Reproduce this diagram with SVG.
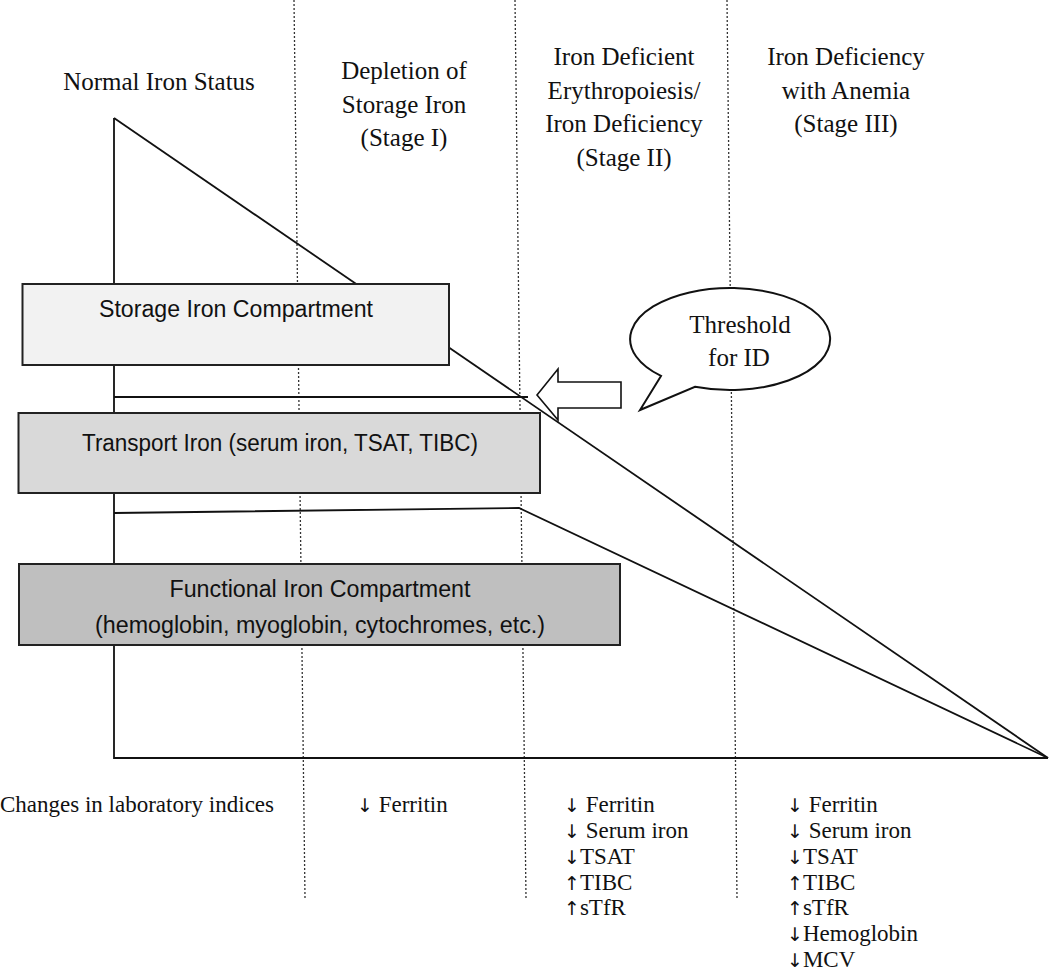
<svg xmlns="http://www.w3.org/2000/svg" width="1050" height="974" viewBox="0 0 1050 974">
<style>
.dot{stroke:#333;stroke-width:1.3;stroke-dasharray:2 2;fill:none}
.ln{stroke:#111;stroke-width:1.8;fill:none}
.box{stroke:#222;stroke-width:2}
.ser{font-family:"Liberation Serif","Times New Roman","DejaVu Serif",serif;fill:#111}
.hd{font-size:25px;text-anchor:middle}
.lab{font-size:23px}
.ar{font-family:"DejaVu Sans",sans-serif;font-size:19px;fill:#111}
.san{font-family:"Liberation Sans",Arial,sans-serif;font-size:23.5px;fill:#111;text-anchor:middle}
</style>
<rect width="1050" height="974" fill="#fff"/>
<g id="stage-dividers">
<line class="dot" x1="294" y1="0" x2="305" y2="898"/>
<line class="dot" x1="515" y1="0" x2="526" y2="898"/>
<line class="dot" x1="727" y1="0" x2="737" y2="898"/>
</g>
<g id="connectors">
<polyline class="ln" points="114,118 114,758 1048,758"/>
<line class="ln" x1="114" y1="118" x2="1048" y2="758"/>
<line class="ln" x1="114" y1="397" x2="528" y2="397"/>
<polyline class="ln" points="114,513 519,508 1048,758"/>
</g>
<g id="storage">
<rect class="box" x="22.5" y="284" width="426.5" height="81" fill="#f2f2f2"/>
<text class="san" x="236" y="317" textLength="274" lengthAdjust="spacingAndGlyphs">Storage Iron Compartment</text>
</g>
<g id="transport">
<rect class="box" x="18.5" y="413" width="521.5" height="80" fill="#d9d9d9"/>
<text class="san" x="280" y="451" textLength="396" lengthAdjust="spacingAndGlyphs">Transport Iron (serum iron, TSAT, TIBC)</text>
</g>
<g id="functional">
<rect class="box" x="19" y="564" width="601" height="81" fill="#bfbfbf"/>
<text class="san" x="320" y="597" textLength="301" lengthAdjust="spacingAndGlyphs">Functional Iron Compartment</text>
<text class="san" x="320" y="633" textLength="450" lengthAdjust="spacingAndGlyphs">(hemoglobin, myoglobin, cytochromes, etc.)</text>
</g>
<g id="threshold-bubble">
<path d="M661,375.9 L640,410 L695,386.8 A100 51 0 1 0 661,375.9 Z" fill="#fff" stroke="#111" stroke-width="2"/>
<text class="ser hd" x="740" y="333">Threshold</text>
<text class="ser hd" x="739" y="366">for ID</text>
</g>
<g id="threshold-arrow">
<polygon points="537,395 558,369 558,382 621,382 621,408 558,408 558,420" fill="#fff" stroke="#111" stroke-width="1.6"/>
</g>
<g id="headers">
<text class="ser hd" x="159" y="90">Normal Iron Status</text>
<text class="ser hd" x="404" y="79">Depletion of</text>
<text class="ser hd" x="404" y="112.5">Storage Iron</text>
<text class="ser hd" x="404" y="146">(Stage I)</text>
<text class="ser hd" x="624" y="65">Iron Deficient</text>
<text class="ser hd" x="624" y="98.5">Erythropoiesis/</text>
<text class="ser hd" x="624" y="132">Iron Deficiency</text>
<text class="ser hd" x="624" y="165.5">(Stage II)</text>
<text class="ser hd" x="846" y="65">Iron Deficiency</text>
<text class="ser hd" x="846" y="98.5">with Anemia</text>
<text class="ser hd" x="846" y="132">(Stage III)</text>
</g>
<g id="lab-indices">
<text class="ser lab" x="0" y="812">Changes in laboratory indices</text>
<text class="ser lab" x="357" y="812"><tspan class="ar">↓</tspan> Ferritin</text>
<text class="ser lab" x="564" y="812"><tspan class="ar">↓</tspan> Ferritin</text>
<text class="ser lab" x="564" y="838"><tspan class="ar">↓</tspan> Serum iron</text>
<text class="ser lab" x="564" y="863.5"><tspan class="ar">↓</tspan>TSAT</text>
<text class="ser lab" x="564" y="889.5"><tspan class="ar">↑</tspan>TIBC</text>
<text class="ser lab" x="564" y="915"><tspan class="ar">↑</tspan>sTfR</text>
<text class="ser lab" x="787" y="812"><tspan class="ar">↓</tspan> Ferritin</text>
<text class="ser lab" x="787" y="838"><tspan class="ar">↓</tspan> Serum iron</text>
<text class="ser lab" x="787" y="863.5"><tspan class="ar">↓</tspan>TSAT</text>
<text class="ser lab" x="787" y="889.5"><tspan class="ar">↑</tspan>TIBC</text>
<text class="ser lab" x="787" y="915"><tspan class="ar">↑</tspan>sTfR</text>
<text class="ser lab" x="787" y="941"><tspan class="ar">↓</tspan>Hemoglobin</text>
<text class="ser lab" x="787" y="966.5"><tspan class="ar">↓</tspan>MCV</text>
</g>
</svg>
